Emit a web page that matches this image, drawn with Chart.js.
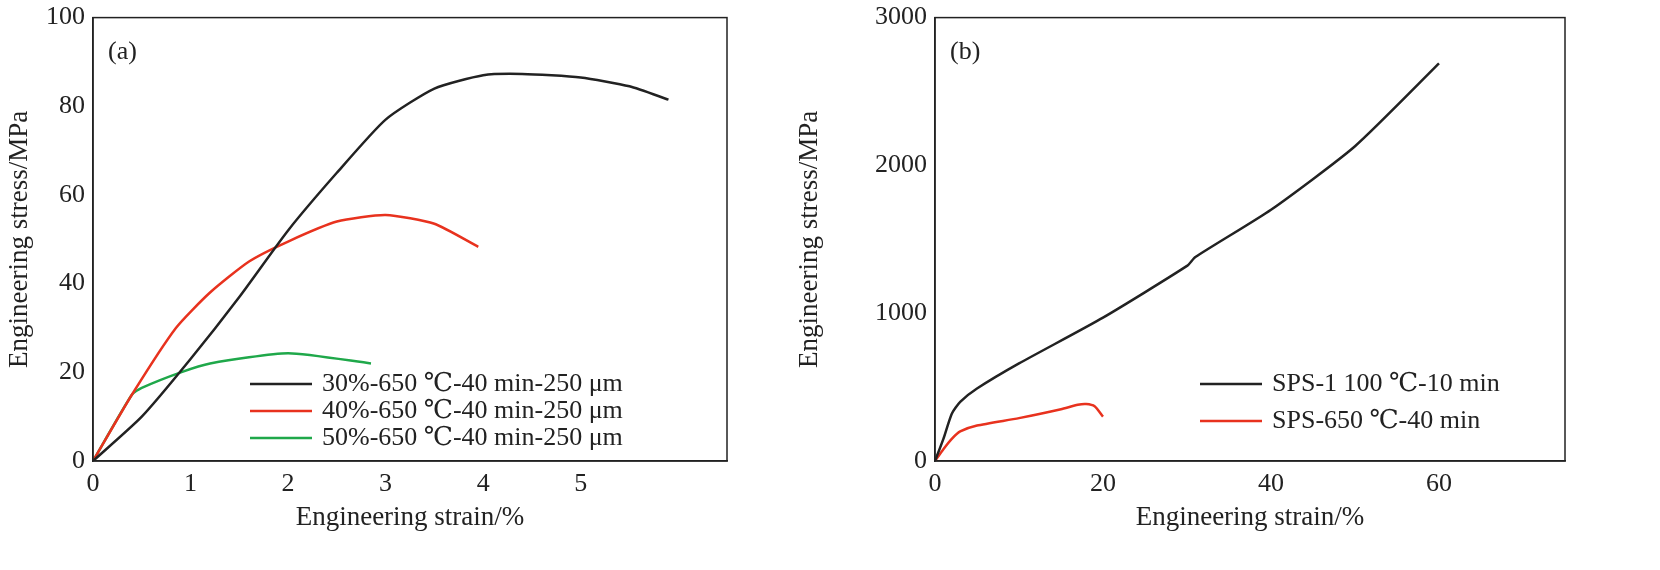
<!DOCTYPE html><html><head><script src="https://cdn.jsdelivr.net/npm/chart.js@4"></script>
<style>body{margin:0;background:#fff;width:1660px;height:570px;position:relative;overflow:hidden}canvas{position:absolute;top:0}</style></head><body>
<canvas id="a" style="left:0" width="740" height="570"></canvas>
<canvas id="b" style="left:790px" width="790" height="570"></canvas>
<script>
const aLabels=["30%-650 ℃-40 min-250 μm","40%-650 ℃-40 min-250 μm","50%-650 ℃-40 min-250 μm"];
const aBlack=[[0,0],[0.5,10],[1,23],[1.5,37],[2,52],[2.5,65],[3,77],[3.5,84],[4,87],[4.4,87.3],[5,86.5],[5.5,84.5],[5.9,81.5]];
const aRed=[[0,0],[0.4,15],[0.85,30],[1.2,38],[1.6,45],[2,49.5],[2.5,54],[3,55.5],[3.5,53.5],[3.95,48.3]];
const aGreen=[[0,0],[0.4,15],[0.5,16.5],[0.9,20],[1.2,22],[2,24.3],[2.85,22]];
const bLabels=["SPS-1 100 ℃-10 min","SPS-650 ℃-40 min"];
const bBlack=[[0,0],[1,150],[2,320],[3,400],[5,490],[10,660],[20,970],[30,1320],[31,1380],[40,1700],[50,2130],[60,2690]];
const bRed=[[0,0],[1,80],[2,150],[3,200],[5,240],[10,290],[15,350],[17,380],[18,385],[19,370],[20,300]];
const F="'Liberation Serif','DejaVu Serif',serif";
const pts=a=>a.map(p=>({x:p[0],y:p[1]}));
function legendPlugin(x0,y0,dy,tag){return{id:'lg',afterDraw(c){const g=c.ctx;g.save();g.font="26px "+F;g.textBaseline='middle';
c.data.datasets.forEach((d,i)=>{const y=y0+i*dy;g.strokeStyle=d.borderColor;g.lineWidth=2.5;g.beginPath();g.moveTo(x0,y);g.lineTo(x0+62,y);g.stroke();g.fillStyle='#222';g.fillText(d.label,x0+72,y);});
g.font="26px "+F;g.fillText(tag,c.chartArea.left+15,c.chartArea.top+35);
g.strokeStyle='#222';g.lineWidth=1.5;const a=c.chartArea;g.strokeRect(a.left,a.top,a.right-a.left,a.bottom-a.top);g.restore();}}}
function make(id,sets,cols,labels,xmax,xstep,ymax,ystep,yw,padR,leg){
new Chart(document.getElementById(id),{type:'line',data:{datasets:sets.map((s,i)=>({label:labels[i],data:pts(s),borderColor:cols[i],borderWidth:2.5,pointRadius:0,tension:0.2,fill:false}))},
options:{responsive:false,animation:false,layout:{padding:{top:10,right:padR,bottom:32}},plugins:{legend:{display:false},tooltip:{enabled:false}},
scales:{x:{type:'linear',min:0,max:xmax,ticks:{stepSize:xstep,color:'#222',font:{family:F,size:26},padding:2,callback:v=>(v%xstep===0?String(v):'')},grid:{display:false,tickLength:6,tickColor:'#222'},border:{color:'#222',width:1.5},
title:{display:true,text:'Engineering strain/%',color:'#222',font:{family:F,size:27},padding:{top:0}},afterFit(s){s.height=77}},
y:{min:0,max:ymax,ticks:{stepSize:ystep,color:'#222',font:{family:F,size:26},padding:2,callback:v=>String(v)},grid:{display:false,tickLength:6,tickColor:'#222'},border:{color:'#222',width:1.5},
title:{display:true,text:'Engineering stress/MPa',color:'#222',font:{family:F,size:27},padding:{bottom:4}},afterFit(s){s.width=yw}}}},plugins:[leg]});}
make('a',[aBlack,aRed,aGreen],['#222','#e8321e','#1fa84a'],aLabels,6.5,1,100,20,93,13,legendPlugin(250,384,27,'(a)'));
make('b',[bBlack,bRed],['#222','#e8321e'],bLabels,75,20,3000,1000,145,15,legendPlugin(410,384,37,'(b)'));
</script></body></html>
